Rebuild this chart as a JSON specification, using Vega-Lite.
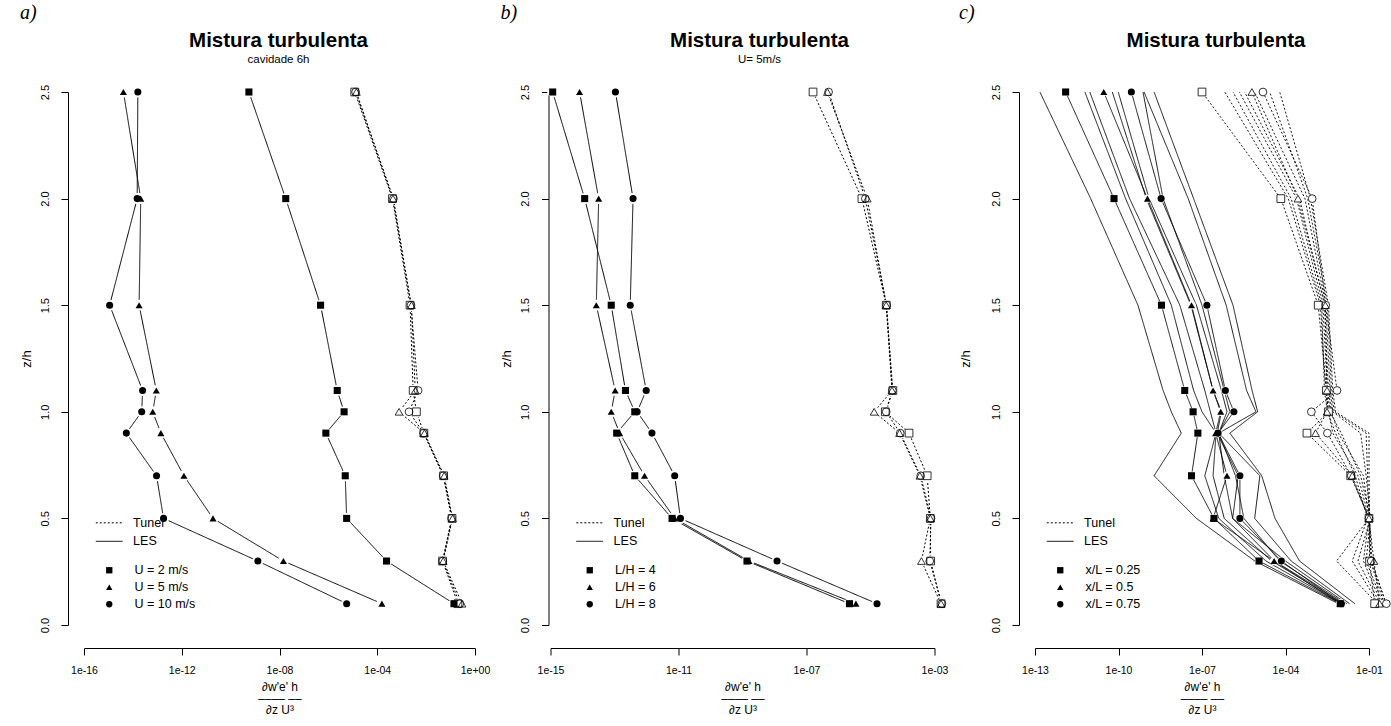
{
"$schema": "https://vega.github.io/schema/vega-lite/v6.json",
"background": "white",
"padding": {"left": 20, "top": 3, "right": 0, "bottom": 0},
"spacing": 10.5,
"config": {
  "font": "Liberation Sans",
  "view": {"stroke": null},
  "axis": {"grid": false, "domainColor": "#000", "tickColor": "#000", "labelColor": "#000", "titleColor": "#000", "domainWidth": 1, "tickWidth": 1, "tickSize": 7, "labelFont": "Liberation Sans", "titleFont": "Liberation Sans", "labelFontSize": 11, "titleFontWeight": "normal"},
  "legend": {"labelFont": "Liberation Sans", "labelFontSize": 12.5, "labelColor": "#000"},
  "title": {"color": "#000", "subtitleColor": "#000"}
},
"datasets": {
"a": [
{"s":"LES","c":"U = 2 m/s","g":"a1","z":2.5,"v":5.6e-10},
{"s":"LES","c":"U = 2 m/s","g":"a1","z":2.0,"v":1.8e-8},
{"s":"LES","c":"U = 2 m/s","g":"a1","z":1.5,"v":4.8e-7},
{"s":"LES","c":"U = 2 m/s","g":"a1","z":1.1,"v":2.3e-6},
{"s":"LES","c":"U = 2 m/s","g":"a1","z":1.0,"v":4.4e-6},
{"s":"LES","c":"U = 2 m/s","g":"a1","z":0.9,"v":7.9e-7},
{"s":"LES","c":"U = 2 m/s","g":"a1","z":0.7,"v":4.9e-6},
{"s":"LES","c":"U = 2 m/s","g":"a1","z":0.5,"v":5.6e-6},
{"s":"LES","c":"U = 2 m/s","g":"a1","z":0.3,"v":2.4e-4},
{"s":"LES","c":"U = 2 m/s","g":"a1","z":0.1,"v":1.38e-1},
{"s":"LES","c":"U = 5 m/s","g":"a2","z":2.5,"v":4.1e-15},
{"s":"LES","c":"U = 5 m/s","g":"a2","z":2.0,"v":2.1e-14},
{"s":"LES","c":"U = 5 m/s","g":"a2","z":1.5,"v":1.8e-14},
{"s":"LES","c":"U = 5 m/s","g":"a2","z":1.1,"v":9.1e-14},
{"s":"LES","c":"U = 5 m/s","g":"a2","z":1.0,"v":6.5e-14},
{"s":"LES","c":"U = 5 m/s","g":"a2","z":0.9,"v":1.4e-13},
{"s":"LES","c":"U = 5 m/s","g":"a2","z":0.7,"v":1.23e-12},
{"s":"LES","c":"U = 5 m/s","g":"a2","z":0.5,"v":1.9e-11},
{"s":"LES","c":"U = 5 m/s","g":"a2","z":0.3,"v":1.45e-8},
{"s":"LES","c":"U = 5 m/s","g":"a2","z":0.1,"v":1.55e-4},
{"s":"LES","c":"U = 10 m/s","g":"a3","z":2.5,"v":1.6e-14},
{"s":"LES","c":"U = 10 m/s","g":"a3","z":2.0,"v":1.5e-14},
{"s":"LES","c":"U = 10 m/s","g":"a3","z":1.5,"v":1.12e-15},
{"s":"LES","c":"U = 10 m/s","g":"a3","z":1.1,"v":2.5e-14},
{"s":"LES","c":"U = 10 m/s","g":"a3","z":1.0,"v":2.3e-14},
{"s":"LES","c":"U = 10 m/s","g":"a3","z":0.9,"v":5.4e-15},
{"s":"LES","c":"U = 10 m/s","g":"a3","z":0.7,"v":9.3e-14},
{"s":"LES","c":"U = 10 m/s","g":"a3","z":0.5,"v":1.8e-13},
{"s":"LES","c":"U = 10 m/s","g":"a3","z":0.3,"v":1.3e-9},
{"s":"LES","c":"U = 10 m/s","g":"a3","z":0.1,"v":5.6e-6},
{"s":"Tunel","c":"U = 2 m/s","g":"a4","z":2.5,"v":1.2e-5},
{"s":"Tunel","c":"U = 2 m/s","g":"a4","z":2.0,"v":4.2e-4},
{"s":"Tunel","c":"U = 2 m/s","g":"a4","z":1.5,"v":2.2e-3},
{"s":"Tunel","c":"U = 2 m/s","g":"a4","z":1.1,"v":2.95e-3},
{"s":"Tunel","c":"U = 2 m/s","g":"a4","z":1.0,"v":4.0e-3},
{"s":"Tunel","c":"U = 2 m/s","g":"a4","z":0.9,"v":8.1e-3},
{"s":"Tunel","c":"U = 2 m/s","g":"a4","z":0.7,"v":5.2e-2},
{"s":"Tunel","c":"U = 2 m/s","g":"a4","z":0.5,"v":1.15e-1},
{"s":"Tunel","c":"U = 2 m/s","g":"a4","z":0.3,"v":4.7e-2},
{"s":"Tunel","c":"U = 2 m/s","g":"a4","z":0.1,"v":2.0e-1},
{"s":"Tunel","c":"U = 5 m/s","g":"a5","z":2.5,"v":1.4e-5},
{"s":"Tunel","c":"U = 5 m/s","g":"a5","z":2.0,"v":4.4e-4},
{"s":"Tunel","c":"U = 5 m/s","g":"a5","z":1.5,"v":2.5e-3},
{"s":"Tunel","c":"U = 5 m/s","g":"a5","z":1.1,"v":3.6e-3},
{"s":"Tunel","c":"U = 5 m/s","g":"a5","z":1.0,"v":7.8e-4},
{"s":"Tunel","c":"U = 5 m/s","g":"a5","z":0.9,"v":8.5e-3},
{"s":"Tunel","c":"U = 5 m/s","g":"a5","z":0.7,"v":5.5e-2},
{"s":"Tunel","c":"U = 5 m/s","g":"a5","z":0.5,"v":1.2e-1},
{"s":"Tunel","c":"U = 5 m/s","g":"a5","z":0.3,"v":5.0e-2},
{"s":"Tunel","c":"U = 5 m/s","g":"a5","z":0.1,"v":2.95e-1},
{"s":"Tunel","c":"U = 10 m/s","g":"a6","z":2.5,"v":1.3e-5},
{"s":"Tunel","c":"U = 10 m/s","g":"a6","z":2.0,"v":4.6e-4},
{"s":"Tunel","c":"U = 10 m/s","g":"a6","z":1.5,"v":2.4e-3},
{"s":"Tunel","c":"U = 10 m/s","g":"a6","z":1.1,"v":4.7e-3},
{"s":"Tunel","c":"U = 10 m/s","g":"a6","z":1.0,"v":2.0e-3},
{"s":"Tunel","c":"U = 10 m/s","g":"a6","z":0.9,"v":7.9e-3},
{"s":"Tunel","c":"U = 10 m/s","g":"a6","z":0.7,"v":5.0e-2},
{"s":"Tunel","c":"U = 10 m/s","g":"a6","z":0.5,"v":1.1e-1},
{"s":"Tunel","c":"U = 10 m/s","g":"a6","z":0.3,"v":4.8e-2},
{"s":"Tunel","c":"U = 10 m/s","g":"a6","z":0.1,"v":2.4e-1}
],
"b": [
{"s":"LES","c":"L/H = 4","g":"b1","z":2.5,"v":1.17e-15},
{"s":"LES","c":"L/H = 4","g":"b1","z":2.0,"v":1.17e-14},
{"s":"LES","c":"L/H = 4","g":"b1","z":1.5,"v":7.9e-14},
{"s":"LES","c":"L/H = 4","g":"b1","z":1.1,"v":2.2e-13},
{"s":"LES","c":"L/H = 4","g":"b1","z":1.0,"v":4.3e-13},
{"s":"LES","c":"L/H = 4","g":"b1","z":0.9,"v":1.17e-13},
{"s":"LES","c":"L/H = 4","g":"b1","z":0.7,"v":4.3e-13},
{"s":"LES","c":"L/H = 4","g":"b1","z":0.5,"v":6.3e-12},
{"s":"LES","c":"L/H = 4","g":"b1","z":0.3,"v":1.38e-9},
{"s":"LES","c":"L/H = 4","g":"b1","z":0.1,"v":2.2e-6},
{"s":"LES","c":"L/H = 6","g":"b2","z":2.5,"v":8.1e-15},
{"s":"LES","c":"L/H = 6","g":"b2","z":2.0,"v":3.2e-14},
{"s":"LES","c":"L/H = 6","g":"b2","z":1.5,"v":2.7e-14},
{"s":"LES","c":"L/H = 6","g":"b2","z":1.1,"v":1.05e-13},
{"s":"LES","c":"L/H = 6","g":"b2","z":1.0,"v":7.9e-14},
{"s":"LES","c":"L/H = 6","g":"b2","z":0.9,"v":1.45e-13},
{"s":"LES","c":"L/H = 6","g":"b2","z":0.7,"v":8.7e-13},
{"s":"LES","c":"L/H = 6","g":"b2","z":0.5,"v":7.6e-12},
{"s":"LES","c":"L/H = 6","g":"b2","z":0.3,"v":1.6e-9},
{"s":"LES","c":"L/H = 6","g":"b2","z":0.1,"v":3.5e-6},
{"s":"LES","c":"L/H = 8","g":"b3","z":2.5,"v":1.07e-13},
{"s":"LES","c":"L/H = 8","g":"b3","z":2.0,"v":3.8e-13},
{"s":"LES","c":"L/H = 8","g":"b3","z":1.5,"v":3.1e-13},
{"s":"LES","c":"L/H = 8","g":"b3","z":1.1,"v":9.8e-13},
{"s":"LES","c":"L/H = 8","g":"b3","z":1.0,"v":5.1e-13},
{"s":"LES","c":"L/H = 8","g":"b3","z":0.9,"v":1.48e-12},
{"s":"LES","c":"L/H = 8","g":"b3","z":0.7,"v":7.6e-12},
{"s":"LES","c":"L/H = 8","g":"b3","z":0.5,"v":1.15e-11},
{"s":"LES","c":"L/H = 8","g":"b3","z":0.3,"v":1.2e-8},
{"s":"LES","c":"L/H = 8","g":"b3","z":0.1,"v":1.6e-5},
{"s":"Tunel","c":"L/H = 4","g":"b4","z":2.5,"v":1.6e-7},
{"s":"Tunel","c":"L/H = 4","g":"b4","z":2.0,"v":5.4e-6},
{"s":"Tunel","c":"L/H = 4","g":"b4","z":1.5,"v":3.1e-5},
{"s":"Tunel","c":"L/H = 4","g":"b4","z":1.1,"v":5.0e-5},
{"s":"Tunel","c":"L/H = 4","g":"b4","z":1.0,"v":2.9e-5},
{"s":"Tunel","c":"L/H = 4","g":"b4","z":0.9,"v":1.6e-4},
{"s":"Tunel","c":"L/H = 4","g":"b4","z":0.7,"v":5.9e-4},
{"s":"Tunel","c":"L/H = 4","g":"b4","z":0.5,"v":7.4e-4},
{"s":"Tunel","c":"L/H = 4","g":"b4","z":0.3,"v":7.6e-4},
{"s":"Tunel","c":"L/H = 4","g":"b4","z":0.1,"v":1.6e-3},
{"s":"Tunel","c":"L/H = 6","g":"b5","z":2.5,"v":4.5e-7},
{"s":"Tunel","c":"L/H = 6","g":"b5","z":2.0,"v":7.9e-6},
{"s":"Tunel","c":"L/H = 6","g":"b5","z":1.5,"v":3.1e-5},
{"s":"Tunel","c":"L/H = 6","g":"b5","z":1.1,"v":4.7e-5},
{"s":"Tunel","c":"L/H = 6","g":"b5","z":1.0,"v":1.3e-5},
{"s":"Tunel","c":"L/H = 6","g":"b5","z":0.9,"v":8.1e-5},
{"s":"Tunel","c":"L/H = 6","g":"b5","z":0.7,"v":3.5e-4},
{"s":"Tunel","c":"L/H = 6","g":"b5","z":0.5,"v":7.4e-4},
{"s":"Tunel","c":"L/H = 6","g":"b5","z":0.3,"v":3.9e-4},
{"s":"Tunel","c":"L/H = 6","g":"b5","z":0.1,"v":1.6e-3},
{"s":"Tunel","c":"L/H = 8","g":"b6","z":2.5,"v":4.9e-7},
{"s":"Tunel","c":"L/H = 8","g":"b6","z":2.0,"v":6.9e-6},
{"s":"Tunel","c":"L/H = 8","g":"b6","z":1.5,"v":3.2e-5},
{"s":"Tunel","c":"L/H = 8","g":"b6","z":1.1,"v":4.8e-5},
{"s":"Tunel","c":"L/H = 8","g":"b6","z":1.0,"v":3.1e-5},
{"s":"Tunel","c":"L/H = 8","g":"b6","z":0.9,"v":8.5e-5},
{"s":"Tunel","c":"L/H = 8","g":"b6","z":0.7,"v":3.7e-4},
{"s":"Tunel","c":"L/H = 8","g":"b6","z":0.5,"v":7.8e-4},
{"s":"Tunel","c":"L/H = 8","g":"b6","z":0.3,"v":7.1e-4},
{"s":"Tunel","c":"L/H = 8","g":"b6","z":0.1,"v":1.7e-3}
],
"c": [
{"s":"LES","c":"x/L = 0.25","g":"c1","z":2.5,"v":1.26e-12},
{"s":"LES","c":"x/L = 0.25","g":"c1","z":2.0,"v":6.9e-11},
{"s":"LES","c":"x/L = 0.25","g":"c1","z":1.5,"v":3.5e-9},
{"s":"LES","c":"x/L = 0.25","g":"c1","z":1.1,"v":2.4e-8},
{"s":"LES","c":"x/L = 0.25","g":"c1","z":1.0,"v":4.8e-8},
{"s":"LES","c":"x/L = 0.25","g":"c1","z":0.9,"v":7.1e-8},
{"s":"LES","c":"x/L = 0.25","g":"c1","z":0.7,"v":4.2e-8},
{"s":"LES","c":"x/L = 0.25","g":"c1","z":0.5,"v":2.7e-7},
{"s":"LES","c":"x/L = 0.25","g":"c1","z":0.3,"v":1.12e-5},
{"s":"LES","c":"x/L = 0.25","g":"c1","z":0.1,"v":9.3e-3},
{"s":"LES","c":"x/L = 0.5","g":"c2","z":2.5,"v":2.95e-11},
{"s":"LES","c":"x/L = 0.5","g":"c2","z":2.0,"v":1.1e-9},
{"s":"LES","c":"x/L = 0.5","g":"c2","z":1.5,"v":4.2e-8},
{"s":"LES","c":"x/L = 0.5","g":"c2","z":1.1,"v":2.5e-7},
{"s":"LES","c":"x/L = 0.5","g":"c2","z":1.0,"v":4.7e-7},
{"s":"LES","c":"x/L = 0.5","g":"c2","z":0.9,"v":3.1e-7},
{"s":"LES","c":"x/L = 0.5","g":"c2","z":0.7,"v":7.9e-7},
{"s":"LES","c":"x/L = 0.5","g":"c2","z":0.5,"v":2.5e-7},
{"s":"LES","c":"x/L = 0.5","g":"c2","z":0.3,"v":3.9e-5},
{"s":"LES","c":"x/L = 0.5","g":"c2","z":0.1,"v":9.1e-3},
{"s":"LES","c":"x/L = 0.75","g":"c3","z":2.5,"v":2.9e-10},
{"s":"LES","c":"x/L = 0.75","g":"c3","z":2.0,"v":3.4e-9},
{"s":"LES","c":"x/L = 0.75","g":"c3","z":1.5,"v":1.5e-7},
{"s":"LES","c":"x/L = 0.75","g":"c3","z":1.1,"v":6.9e-7},
{"s":"LES","c":"x/L = 0.75","g":"c3","z":1.0,"v":1.4e-6},
{"s":"LES","c":"x/L = 0.75","g":"c3","z":0.9,"v":3.8e-7},
{"s":"LES","c":"x/L = 0.75","g":"c3","z":0.7,"v":2.3e-6},
{"s":"LES","c":"x/L = 0.75","g":"c3","z":0.5,"v":2.3e-6},
{"s":"LES","c":"x/L = 0.75","g":"c3","z":0.3,"v":7.1e-5},
{"s":"LES","c":"x/L = 0.75","g":"c3","z":0.1,"v":1.02e-2},
{"s":"Tunel","c":"x/L = 0.25","g":"c4","z":2.5,"v":1.0e-7},
{"s":"Tunel","c":"x/L = 0.25","g":"c4","z":2.0,"v":6.8e-5},
{"s":"Tunel","c":"x/L = 0.25","g":"c4","z":1.5,"v":1.5e-3},
{"s":"Tunel","c":"x/L = 0.25","g":"c4","z":1.1,"v":2.95e-3},
{"s":"Tunel","c":"x/L = 0.25","g":"c4","z":1.0,"v":3.5e-3},
{"s":"Tunel","c":"x/L = 0.25","g":"c4","z":0.9,"v":5.9e-4},
{"s":"Tunel","c":"x/L = 0.25","g":"c4","z":0.7,"v":2.2e-2},
{"s":"Tunel","c":"x/L = 0.25","g":"c4","z":0.5,"v":1.0e-1},
{"s":"Tunel","c":"x/L = 0.25","g":"c4","z":0.3,"v":1.05e-1},
{"s":"Tunel","c":"x/L = 0.25","g":"c4","z":0.1,"v":1.6e-1},
{"s":"Tunel","c":"x/L = 0.5","g":"c5","z":2.5,"v":6.2e-6},
{"s":"Tunel","c":"x/L = 0.5","g":"c5","z":2.0,"v":2.8e-4},
{"s":"Tunel","c":"x/L = 0.5","g":"c5","z":1.5,"v":2.7e-3},
{"s":"Tunel","c":"x/L = 0.5","g":"c5","z":1.1,"v":3.1e-3},
{"s":"Tunel","c":"x/L = 0.5","g":"c5","z":1.0,"v":3.1e-3},
{"s":"Tunel","c":"x/L = 0.5","g":"c5","z":0.9,"v":1.2e-3},
{"s":"Tunel","c":"x/L = 0.5","g":"c5","z":0.7,"v":2.5e-2},
{"s":"Tunel","c":"x/L = 0.5","g":"c5","z":0.5,"v":1.0e-1},
{"s":"Tunel","c":"x/L = 0.5","g":"c5","z":0.3,"v":1.5e-1},
{"s":"Tunel","c":"x/L = 0.5","g":"c5","z":0.1,"v":2.4e-1},
{"s":"Tunel","c":"x/L = 0.75","g":"c6","z":2.5,"v":1.55e-5},
{"s":"Tunel","c":"x/L = 0.75","g":"c6","z":2.0,"v":9.1e-4},
{"s":"Tunel","c":"x/L = 0.75","g":"c6","z":1.5,"v":2.8e-3},
{"s":"Tunel","c":"x/L = 0.75","g":"c6","z":1.1,"v":7.1e-3},
{"s":"Tunel","c":"x/L = 0.75","g":"c6","z":1.0,"v":8.5e-4},
{"s":"Tunel","c":"x/L = 0.75","g":"c6","z":0.9,"v":3.2e-3},
{"s":"Tunel","c":"x/L = 0.75","g":"c6","z":0.7,"v":2.3e-2},
{"s":"Tunel","c":"x/L = 0.75","g":"c6","z":0.5,"v":1.0e-1},
{"s":"Tunel","c":"x/L = 0.75","g":"c6","z":0.3,"v":1.2e-1},
{"s":"Tunel","c":"x/L = 0.75","g":"c6","z":0.1,"v":4.2e-1},
{"s":"LES","g":"c7","z":2.5,"v":1.5e-13},
{"s":"LES","g":"c7","z":2.0,"v":1.0e-11},
{"s":"LES","g":"c7","z":1.5,"v":5.0e-10},
{"s":"LES","g":"c7","z":1.1,"v":4.0e-9},
{"s":"LES","g":"c7","z":1.0,"v":7.9e-9},
{"s":"LES","g":"c7","z":0.9,"v":1.8e-8},
{"s":"LES","g":"c7","z":0.7,"v":1.9e-9},
{"s":"LES","g":"c7","z":0.5,"v":6.3e-8},
{"s":"LES","g":"c7","z":0.3,"v":7.9e-6},
{"s":"LES","g":"c7","z":0.1,"v":7.9e-3},
{"s":"LES","g":"c8","z":2.5,"v":6.2e-12},
{"s":"LES","g":"c8","z":2.0,"v":1.8e-10},
{"s":"LES","g":"c8","z":1.5,"v":7.9e-9},
{"s":"LES","g":"c8","z":1.1,"v":5.0e-8},
{"s":"LES","g":"c8","z":1.0,"v":1.0e-7},
{"s":"LES","g":"c8","z":0.9,"v":3.2e-7},
{"s":"LES","g":"c8","z":0.7,"v":1.26e-7},
{"s":"LES","g":"c8","z":0.5,"v":4.0e-7},
{"s":"LES","g":"c8","z":0.3,"v":2.0e-5},
{"s":"LES","g":"c8","z":0.1,"v":1.0e-2},
{"s":"LES","g":"c9","z":2.5,"v":9.3e-12},
{"s":"LES","g":"c9","z":2.0,"v":2.5e-10},
{"s":"LES","g":"c9","z":1.5,"v":1.6e-8},
{"s":"LES","g":"c9","z":1.1,"v":1.26e-7},
{"s":"LES","g":"c9","z":1.0,"v":2.0e-7},
{"s":"LES","g":"c9","z":0.9,"v":3.2e-7},
{"s":"LES","g":"c9","z":0.7,"v":2.5e-7},
{"s":"LES","g":"c9","z":0.5,"v":6.3e-7},
{"s":"LES","g":"c9","z":0.3,"v":3.2e-5},
{"s":"LES","g":"c9","z":0.1,"v":1.12e-2},
{"s":"LES","g":"c10","z":2.5,"v":6.0e-11},
{"s":"LES","g":"c10","z":2.0,"v":1.0e-9},
{"s":"LES","g":"c10","z":1.5,"v":4.0e-8},
{"s":"LES","g":"c10","z":1.1,"v":2.5e-7},
{"s":"LES","g":"c10","z":1.0,"v":5.0e-7},
{"s":"LES","g":"c10","z":0.9,"v":3.5e-7},
{"s":"LES","g":"c10","z":0.7,"v":2.0e-6},
{"s":"LES","g":"c10","z":0.5,"v":1.26e-6},
{"s":"LES","g":"c10","z":0.3,"v":4.0e-5},
{"s":"LES","g":"c10","z":0.1,"v":1.26e-2},
{"s":"LES","g":"c11","z":2.5,"v":9.8e-11},
{"s":"LES","g":"c11","z":2.0,"v":1.26e-9},
{"s":"LES","g":"c11","z":1.5,"v":6.3e-8},
{"s":"LES","g":"c11","z":1.1,"v":5.0e-7},
{"s":"LES","g":"c11","z":1.0,"v":7.9e-7},
{"s":"LES","g":"c11","z":0.9,"v":4.0e-7},
{"s":"LES","g":"c11","z":0.7,"v":1.6e-6},
{"s":"LES","g":"c11","z":0.5,"v":3.2e-6},
{"s":"LES","g":"c11","z":0.3,"v":6.3e-5},
{"s":"LES","g":"c11","z":0.1,"v":1.4e-2},
{"s":"LES","g":"c12","z":2.5,"v":7.6e-10},
{"s":"LES","g":"c12","z":2.0,"v":4.0e-9},
{"s":"LES","g":"c12","z":1.5,"v":1.0e-7},
{"s":"LES","g":"c12","z":1.1,"v":6.3e-7},
{"s":"LES","g":"c12","z":1.0,"v":1.0e-6},
{"s":"LES","g":"c12","z":0.9,"v":4.0e-7},
{"s":"LES","g":"c12","z":0.7,"v":6.3e-7},
{"s":"LES","g":"c12","z":0.5,"v":1.26e-6},
{"s":"LES","g":"c12","z":0.3,"v":1.0e-4},
{"s":"LES","g":"c12","z":0.1,"v":1.6e-2},
{"s":"LES","g":"c13","z":2.5,"v":8.3e-10},
{"s":"LES","g":"c13","z":2.0,"v":3.2e-8},
{"s":"LES","g":"c13","z":1.5,"v":7.4e-7},
{"s":"LES","g":"c13","z":1.1,"v":4.0e-6},
{"s":"LES","g":"c13","z":1.0,"v":8.7e-6},
{"s":"LES","g":"c13","z":0.9,"v":4.0e-7},
{"s":"LES","g":"c13","z":0.7,"v":1.2e-5},
{"s":"LES","g":"c13","z":0.5,"v":7.8e-6},
{"s":"LES","g":"c13","z":0.3,"v":1.6e-4},
{"s":"LES","g":"c13","z":0.1,"v":2.0e-2},
{"s":"LES","g":"c14","z":2.5,"v":1.9e-9},
{"s":"LES","g":"c14","z":2.0,"v":5.0e-8},
{"s":"LES","g":"c14","z":1.5,"v":1.3e-6},
{"s":"LES","g":"c14","z":1.1,"v":6.3e-6},
{"s":"LES","g":"c14","z":1.0,"v":1.0e-5},
{"s":"LES","g":"c14","z":0.9,"v":1.0e-6},
{"s":"LES","g":"c14","z":0.7,"v":1.4e-5},
{"s":"LES","g":"c14","z":0.5,"v":4.2e-5},
{"s":"LES","g":"c14","z":0.3,"v":3.2e-4},
{"s":"LES","g":"c14","z":0.1,"v":3.1e-2},
{"s":"Tunel","g":"c15","z":2.5,"v":6.6e-7},
{"s":"Tunel","g":"c15","z":2.0,"v":1.26e-4},
{"s":"Tunel","g":"c15","z":1.5,"v":1.8e-3},
{"s":"Tunel","g":"c15","z":1.1,"v":2.8e-3},
{"s":"Tunel","g":"c15","z":1.0,"v":3.5e-3},
{"s":"Tunel","g":"c15","z":0.9,"v":5.0e-3},
{"s":"Tunel","g":"c15","z":0.7,"v":4.0e-2},
{"s":"Tunel","g":"c15","z":0.5,"v":1.0e-1},
{"s":"Tunel","g":"c15","z":0.3,"v":6.8e-3},
{"s":"Tunel","g":"c15","z":0.1,"v":2.0e-1},
{"s":"Tunel","g":"c16","z":2.5,"v":1.3e-6},
{"s":"Tunel","g":"c16","z":2.0,"v":1.6e-4},
{"s":"Tunel","g":"c16","z":1.5,"v":2.0e-3},
{"s":"Tunel","g":"c16","z":1.1,"v":2.5e-3},
{"s":"Tunel","g":"c16","z":1.0,"v":3.2e-3},
{"s":"Tunel","g":"c16","z":0.9,"v":6.3e-3},
{"s":"Tunel","g":"c16","z":0.7,"v":3.2e-2},
{"s":"Tunel","g":"c16","z":0.5,"v":8.9e-2},
{"s":"Tunel","g":"c16","z":0.3,"v":2.5e-2},
{"s":"Tunel","g":"c16","z":0.1,"v":2.2e-1},
{"s":"Tunel","g":"c17","z":2.5,"v":2.2e-6},
{"s":"Tunel","g":"c17","z":2.0,"v":2.5e-4},
{"s":"Tunel","g":"c17","z":1.5,"v":2.2e-3},
{"s":"Tunel","g":"c17","z":1.1,"v":3.2e-3},
{"s":"Tunel","g":"c17","z":1.0,"v":4.0e-3},
{"s":"Tunel","g":"c17","z":0.9,"v":1.0e-2},
{"s":"Tunel","g":"c17","z":0.7,"v":5.0e-2},
{"s":"Tunel","g":"c17","z":0.5,"v":1.12e-1},
{"s":"Tunel","g":"c17","z":0.3,"v":4.0e-2},
{"s":"Tunel","g":"c17","z":0.1,"v":2.5e-1},
{"s":"Tunel","g":"c18","z":2.5,"v":3.4e-6},
{"s":"Tunel","g":"c18","z":2.0,"v":3.2e-4},
{"s":"Tunel","g":"c18","z":1.5,"v":2.5e-3},
{"s":"Tunel","g":"c18","z":1.1,"v":3.5e-3},
{"s":"Tunel","g":"c18","z":1.0,"v":4.5e-3},
{"s":"Tunel","g":"c18","z":0.9,"v":7.9e-3},
{"s":"Tunel","g":"c18","z":0.7,"v":6.3e-2},
{"s":"Tunel","g":"c18","z":0.5,"v":1.0e-1},
{"s":"Tunel","g":"c18","z":0.3,"v":6.3e-2},
{"s":"Tunel","g":"c18","z":0.1,"v":2.8e-1},
{"s":"Tunel","g":"c19","z":2.5,"v":7.8e-6},
{"s":"Tunel","g":"c19","z":2.0,"v":5.0e-4},
{"s":"Tunel","g":"c19","z":1.5,"v":2.8e-3},
{"s":"Tunel","g":"c19","z":1.1,"v":4.0e-3},
{"s":"Tunel","g":"c19","z":1.0,"v":5.0e-3},
{"s":"Tunel","g":"c19","z":0.9,"v":5.0e-2},
{"s":"Tunel","g":"c19","z":0.7,"v":7.9e-2},
{"s":"Tunel","g":"c19","z":0.5,"v":1.12e-1},
{"s":"Tunel","g":"c19","z":0.3,"v":7.9e-2},
{"s":"Tunel","g":"c19","z":0.1,"v":3.2e-1},
{"s":"Tunel","g":"c20","z":2.5,"v":2.7e-5},
{"s":"Tunel","g":"c20","z":2.0,"v":6.3e-4},
{"s":"Tunel","g":"c20","z":1.5,"v":3.2e-3},
{"s":"Tunel","g":"c20","z":1.1,"v":4.5e-3},
{"s":"Tunel","g":"c20","z":1.0,"v":5.6e-3},
{"s":"Tunel","g":"c20","z":0.9,"v":7.9e-2},
{"s":"Tunel","g":"c20","z":0.7,"v":8.9e-2},
{"s":"Tunel","g":"c20","z":0.5,"v":1.0e-1},
{"s":"Tunel","g":"c20","z":0.3,"v":1.12e-1},
{"s":"Tunel","g":"c20","z":0.1,"v":3.5e-1},
{"s":"Tunel","g":"c21","z":2.5,"v":6.2e-5},
{"s":"Tunel","g":"c21","z":2.0,"v":7.9e-4},
{"s":"Tunel","g":"c21","z":1.5,"v":3.5e-3},
{"s":"Tunel","g":"c21","z":1.1,"v":5.0e-3},
{"s":"Tunel","g":"c21","z":1.0,"v":6.3e-3},
{"s":"Tunel","g":"c21","z":0.9,"v":1.0e-1},
{"s":"Tunel","g":"c21","z":0.7,"v":1.0e-1},
{"s":"Tunel","g":"c21","z":0.5,"v":1.05e-1},
{"s":"Tunel","g":"c21","z":0.3,"v":1.26e-1},
{"s":"Tunel","g":"c21","z":0.1,"v":4.0e-1}
]
},
"hconcat": [
{
 "title": {"text": "a)", "font": "Liberation Serif", "fontStyle": "italic", "fontWeight": "normal", "fontSize": 20, "anchor": "start", "frame": "bounds", "offset": 8},
 "vconcat": [{
  "data": {"name": "a"},
  "width": 391, "height": 533,
  "title": {"text": "Mistura turbulenta", "subtitle": "cavidade 6h", "font": "Liberation Sans", "fontSize": 20.5, "fontWeight": "bold", "subtitleFont": "Liberation Sans", "subtitleFontSize": 11.5, "subtitlePadding": 2, "offset": 19, "anchor": "middle", "dx": -1},
  "encoding": {
   "x": {"field": "v", "type": "quantitative", "scale": {"type": "log", "domain": [1e-16, 1], "nice": false},
     "axis": {"values": [1e-16, 1e-12, 1e-8, 1e-4, 1], "labelExpr": "'1e' + (datum.value < 1 ? '-' : '+') + (abs(round(log(datum.value)/LN10)) < 10 ? '0' : '') + abs(round(log(datum.value)/LN10))", "offset": 23, "labelPadding": 10, "labelFontSize": 10.5, "labelFlush": false, "labelOverlap": false, "title": ["∂w'e'  h", "––––  ––", "∂z   U³"], "titleFontSize": 12, "titleLineHeight": 11.5, "titlePadding": 6}},
   "y": {"field": "z", "type": "quantitative", "scale": {"domain": [0, 2.5], "nice": false},
     "axis": {"values": [0, 0.5, 1, 1.5, 2, 2.5], "format": ".1f", "labelAngle": 270, "labelAlign": "center", "labelBaseline": "bottom", "labelPadding": 11, "offset": 16, "labelFlush": false, "labelOverlap": false, "title": "z/h", "titleFontSize": 13, "titlePadding": 6}}
  },
  "layer": [
   {"mark": {"type": "line", "color": "black", "strokeWidth": 1},
    "encoding": {"detail": {"field": "g"}, "order": {"field": "z", "type": "quantitative"},
     "strokeDash": {"field": "s", "type": "nominal", "scale": {"domain": ["Tunel", "LES"], "range": [[2, 2], [1, 0]]},
      "legend": {"title": null, "orient": "none", "legendX": 17.7, "legendY": 423.3, "symbolType": "M-2,0H2", "symbolSize": 180, "symbolStrokeWidth": 1, "symbolStrokeColor": "black", "symbolFillColor": "transparent", "labelOffset": 16.4, "rowPadding": 4.5, "padding": 0}}}},
   {"transform": [{"filter": "isValid(datum.c)"}],
    "mark": {"type": "point", "shape": "circle", "filled": true, "color": "white", "opacity": 1, "size": 120}},
   {"transform": [{"filter": "datum.s == 'LES' && isValid(datum.c)"}],
    "mark": {"type": "point", "filled": true, "color": "black", "opacity": 1, "size": 50},
    "encoding": {"shape": {"field": "c", "type": "nominal", "scale": {"domain": ["U = 2 m/s", "U = 5 m/s", "U = 10 m/s"], "range": ["square", "triangle-up", "circle"]},
      "legend": {"title": null, "orient": "none", "legendX": 19, "legendY": 472, "symbolSize": 40, "symbolFillColor": "black", "symbolStrokeColor": "black", "labelOffset": 19, "rowPadding": 4, "padding": 0}}}},
   {"transform": [{"filter": "datum.s == 'Tunel' && isValid(datum.c)"}],
    "mark": {"type": "point", "filled": false, "color": "black", "opacity": 1, "size": 60, "strokeWidth": 0.8},
    "encoding": {"shape": {"field": "c", "type": "nominal", "scale": {"domain": ["U = 2 m/s", "U = 5 m/s", "U = 10 m/s"], "range": ["square", "triangle-up", "circle"]},
      "legend": {"title": null, "orient": "none", "legendX": 19, "legendY": 472, "symbolSize": 40, "symbolFillColor": "black", "symbolStrokeColor": "black", "labelOffset": 19, "rowPadding": 4, "padding": 0}}}}
  ]
 }]
},
{
 "title": {"text": "b)", "font": "Liberation Serif", "fontStyle": "italic", "fontWeight": "normal", "fontSize": 20, "anchor": "start", "frame": "bounds", "offset": 8},
 "vconcat": [{
  "data": {"name": "b"},
  "width": 384, "height": 533,
  "title": {"text": "Mistura turbulenta", "subtitle": "U= 5m/s", "font": "Liberation Sans", "fontSize": 20.5, "fontWeight": "bold", "subtitleFont": "Liberation Sans", "subtitleFontSize": 11.5, "subtitlePadding": 2, "offset": 19, "anchor": "middle", "dx": 17},
  "encoding": {
   "x": {"field": "v", "type": "quantitative", "scale": {"type": "log", "domain": [1e-15, 1e-3], "nice": false},
     "axis": {"values": [1e-15, 1e-11, 1e-7, 1e-3], "labelExpr": "'1e' + (datum.value < 1 ? '-' : '+') + (abs(round(log(datum.value)/LN10)) < 10 ? '0' : '') + abs(round(log(datum.value)/LN10))", "offset": 23, "labelPadding": 10, "labelFontSize": 10.5, "labelFlush": false, "labelOverlap": false, "title": ["∂w'e'  h", "––––  ––", "∂z   U³"], "titleFontSize": 12, "titleLineHeight": 11.5, "titlePadding": 6}},
   "y": {"field": "z", "type": "quantitative", "scale": {"domain": [0, 2.5], "nice": false},
     "axis": {"values": [0, 0.5, 1, 1.5, 2, 2.5], "format": ".1f", "labelAngle": 270, "labelAlign": "center", "labelBaseline": "bottom", "labelPadding": 11, "offset": 2, "labelFlush": false, "labelOverlap": false, "title": "z/h", "titleFontSize": 13, "titlePadding": 6}}
  },
  "layer": [
   {"mark": {"type": "line", "color": "black", "strokeWidth": 1},
    "encoding": {"detail": {"field": "g"}, "order": {"field": "z", "type": "quantitative"},
     "strokeDash": {"field": "s", "type": "nominal", "scale": {"domain": ["Tunel", "LES"], "range": [[2, 2], [1, 0]]},
      "legend": {"title": null, "orient": "none", "legendX": 31.7, "legendY": 423.3, "symbolType": "M-2,0H2", "symbolSize": 180, "symbolStrokeWidth": 1, "symbolStrokeColor": "black", "symbolFillColor": "transparent", "labelOffset": 16.4, "rowPadding": 4.5, "padding": 0}}}},
   {"transform": [{"filter": "isValid(datum.c)"}],
    "mark": {"type": "point", "shape": "circle", "filled": true, "color": "white", "opacity": 1, "size": 120}},
   {"transform": [{"filter": "datum.s == 'LES' && isValid(datum.c)"}],
    "mark": {"type": "point", "filled": true, "color": "black", "opacity": 1, "size": 50},
    "encoding": {"shape": {"field": "c", "type": "nominal", "scale": {"domain": ["L/H = 4", "L/H = 6", "L/H = 8"], "range": ["square", "triangle-up", "circle"]},
      "legend": {"title": null, "orient": "none", "legendX": 33, "legendY": 472, "symbolSize": 40, "symbolFillColor": "black", "symbolStrokeColor": "black", "labelOffset": 19, "rowPadding": 4, "padding": 0}}}},
   {"transform": [{"filter": "datum.s == 'Tunel' && isValid(datum.c)"}],
    "mark": {"type": "point", "filled": false, "color": "black", "opacity": 1, "size": 60, "strokeWidth": 0.8},
    "encoding": {"shape": {"field": "c", "type": "nominal", "scale": {"domain": ["L/H = 4", "L/H = 6", "L/H = 8"], "range": ["square", "triangle-up", "circle"]},
      "legend": {"title": null, "orient": "none", "legendX": 33, "legendY": 472, "symbolSize": 40, "symbolFillColor": "black", "symbolStrokeColor": "black", "labelOffset": 19, "rowPadding": 4, "padding": 0}}}}
  ]
 }]
},
{
 "title": {"text": "c)", "font": "Liberation Serif", "fontStyle": "italic", "fontWeight": "normal", "fontSize": 20, "anchor": "start", "frame": "bounds", "offset": 8},
 "vconcat": [{
  "data": {"name": "c"},
  "width": 334, "height": 533,
  "title": {"text": "Mistura turbulenta", "subtitle": " ", "font": "Liberation Sans", "fontSize": 20.5, "fontWeight": "bold", "subtitleFont": "Liberation Sans", "subtitleFontSize": 11.5, "subtitlePadding": 2, "offset": 19, "anchor": "middle", "dx": 14},
  "encoding": {
   "x": {"field": "v", "type": "quantitative", "scale": {"type": "log", "domain": [1e-13, 1e-1], "nice": false},
     "axis": {"values": [1e-13, 1e-10, 1e-7, 1e-4, 1e-1], "labelExpr": "'1e' + (datum.value < 1 ? '-' : '+') + (abs(round(log(datum.value)/LN10)) < 10 ? '0' : '') + abs(round(log(datum.value)/LN10))", "offset": 23, "labelPadding": 10, "labelFontSize": 10.5, "labelFlush": false, "labelOverlap": false, "title": ["∂w'e'  h", "––––  ––", "∂z   U³"], "titleFontSize": 12, "titleLineHeight": 11.5, "titlePadding": 6}},
   "y": {"field": "z", "type": "quantitative", "scale": {"domain": [0, 2.5], "nice": false},
     "axis": {"values": [0, 0.5, 1, 1.5, 2, 2.5], "format": ".1f", "labelAngle": 270, "labelAlign": "center", "labelBaseline": "bottom", "labelPadding": 11, "offset": 16, "labelFlush": false, "labelOverlap": false, "title": "z/h", "titleFontSize": 13, "titlePadding": 18}}
  },
  "layer": [
   {"mark": {"type": "line", "color": "black", "strokeWidth": 0.9},
    "encoding": {"detail": {"field": "g"}, "order": {"field": "z", "type": "quantitative"},
     "strokeDash": {"field": "s", "type": "nominal", "scale": {"domain": ["Tunel", "LES"], "range": [[2, 2], [1, 0]]},
      "legend": {"title": null, "orient": "none", "legendX": 17.7, "legendY": 423.3, "symbolType": "M-2,0H2", "symbolSize": 180, "symbolStrokeWidth": 1, "symbolStrokeColor": "black", "symbolFillColor": "transparent", "labelOffset": 16.4, "rowPadding": 4.5, "padding": 0}}}},
   {"transform": [{"filter": "isValid(datum.c)"}],
    "mark": {"type": "point", "shape": "circle", "filled": true, "color": "white", "opacity": 1, "size": 70}},
   {"transform": [{"filter": "datum.s == 'LES' && isValid(datum.c)"}],
    "mark": {"type": "point", "filled": true, "color": "black", "opacity": 1, "size": 50},
    "encoding": {"shape": {"field": "c", "type": "nominal", "scale": {"domain": ["x/L = 0.25", "x/L = 0.5", "x/L = 0.75"], "range": ["square", "triangle-up", "circle"]},
      "legend": {"title": null, "orient": "none", "legendX": 19, "legendY": 472, "symbolSize": 40, "symbolFillColor": "black", "symbolStrokeColor": "black", "labelOffset": 19, "rowPadding": 4, "padding": 0}}}},
   {"transform": [{"filter": "datum.s == 'Tunel' && isValid(datum.c)"}],
    "mark": {"type": "point", "filled": false, "color": "black", "opacity": 1, "size": 60, "strokeWidth": 0.8},
    "encoding": {"shape": {"field": "c", "type": "nominal", "scale": {"domain": ["x/L = 0.25", "x/L = 0.5", "x/L = 0.75"], "range": ["square", "triangle-up", "circle"]},
      "legend": {"title": null, "orient": "none", "legendX": 19, "legendY": 472, "symbolSize": 40, "symbolFillColor": "black", "symbolStrokeColor": "black", "labelOffset": 19, "rowPadding": 4, "padding": 0}}}}
  ]
 }]
}
],
"resolve": {"scale": {"x": "independent", "y": "independent", "shape": "independent", "strokeDash": "independent"}, "legend": {"shape": "independent", "strokeDash": "independent"}, "axis": {"x": "independent", "y": "independent"}}
}
